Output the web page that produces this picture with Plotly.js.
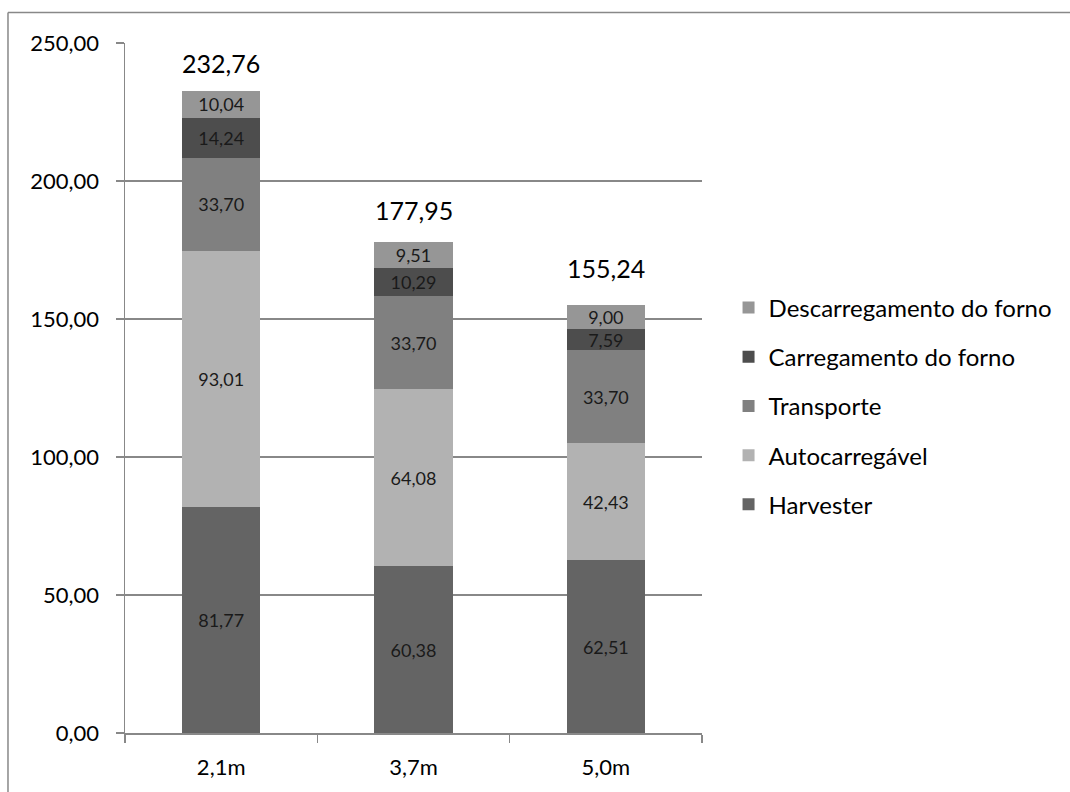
<!DOCTYPE html>
<html>
<head>
<meta charset="utf-8">
<script src="https://cdn.plot.ly/plotly-3.0.1.min.js"></script>
<style>
html,body{margin:0;padding:0;background:#fff;}
#chart{width:1070px;height:792px;}
</style>
</head>
<body>
<div id="chart"></div>
<script>
const categories = ['2,1m', '3,7m', '5,0m'];
const harvester = [81.77, 60.38, 62.51];
const autocarregavel = [93.01, 64.08, 42.43];
const transporte = [33.70, 33.70, 33.70];
const carregamento = [14.24, 10.29, 7.59];
const descarregamento = [10.04, 9.51, 9.00];
const totals = [232.76, 177.95, 155.24];
const seriesNames = ['Harvester', 'Autocarregável', 'Transporte', 'Carregamento do forno', 'Descarregamento do forno'];
const yTicks = [0, 50, 100, 150, 200, 250];

const seriesValues = [harvester, autocarregavel, transporte, carregamento, descarregamento];
const colors = ['#646464', '#b2b2b2', '#808080', '#4d4d4d', '#969696'];
const FONT = 'Lato, Calibri, "Open Sans", sans-serif';
const totalShift = [28, 32, 37];

const traces = seriesValues.map((vals, i) => ({
  type: 'bar',
  x: categories,
  y: vals,
  name: seriesNames[i],
  legendgroup: 'g' + i,
  legendrank: seriesValues.length - i,
  marker: {color: colors[i], line: {width: 0}},
  texttemplate: '%{y:.2f}',
  textposition: 'inside',
  insidetextanchor: 'middle',
  textangle: 0,
  constraintext: 'none',
  textfont: {family: FONT, size: 18, color: '#1a1a1a'},
  hoverinfo: 'skip'
}));

const annotations = categories.map((c, i) => ({
  x: c, y: totals[i], xref: 'x', yref: 'y',
  text: totals[i].toFixed(2).replace('.', ','),
  showarrow: false, yshift: totalShift[i],
  font: {family: FONT, size: 25, color: '#000'}
}));

const layout = {
  width: 1070, height: 792,
  margin: {l: 125, r: 368, t: 43, b: 59},
  paper_bgcolor: '#fff', plot_bgcolor: '#fff',
  barmode: 'stack',
  bargap: 0.594,
  separators: ',.',
  font: {family: FONT, size: 22, color: '#000'},
  showlegend: true,
  legend: {
    traceorder: 'grouped',
    tracegroupgap: 15,
    x: 1.046, xanchor: 'left',
    y: 0.474, yanchor: 'middle',
    font: {family: FONT, size: 24, color: '#000'},
    itemwidth: 30,
    bgcolor: 'rgba(0,0,0,0)'
  },
  xaxis: {
    type: 'category',
    showline: true, linecolor: '#888', linewidth: 1.5,
    ticks: 'outside', tickson: 'boundaries', ticklen: 8, tickcolor: '#888', tickwidth: 1.5,
    ticklabelstandoff: 14,
    showgrid: false, zeroline: false,
    tickfont: {family: FONT, size: 22, color: '#000'}
  },
  yaxis: {
    range: [0, 250],
    tickvals: yTicks,
    tickformat: '.2f',
    showline: true, linecolor: '#888', linewidth: 1.5,
    ticks: 'outside', ticklen: 8, tickcolor: '#888', tickwidth: 1.5,
    ticklabelstandoff: 12,
    showgrid: true, gridcolor: '#888', gridwidth: 1.5,
    zeroline: false,
    tickfont: {family: FONT, size: 22, color: '#000'}
  },
  annotations: annotations,
  shapes: [
    {type: 'line', xref: 'paper', yref: 'paper', x0: -0.2028, x1: 1.7, y0: 1.0442, y1: 1.0442, line: {color: '#888', width: 1.5}},
    {type: 'line', xref: 'paper', yref: 'paper', x0: -0.2028, x1: -0.2028, y0: -0.2, y1: 1.0442, line: {color: '#888', width: 1.5}}
  ]
};

Plotly.newPlot('chart', traces, layout, {displayModeBar: false, staticPlot: true});
</script>
</body>
</html>
